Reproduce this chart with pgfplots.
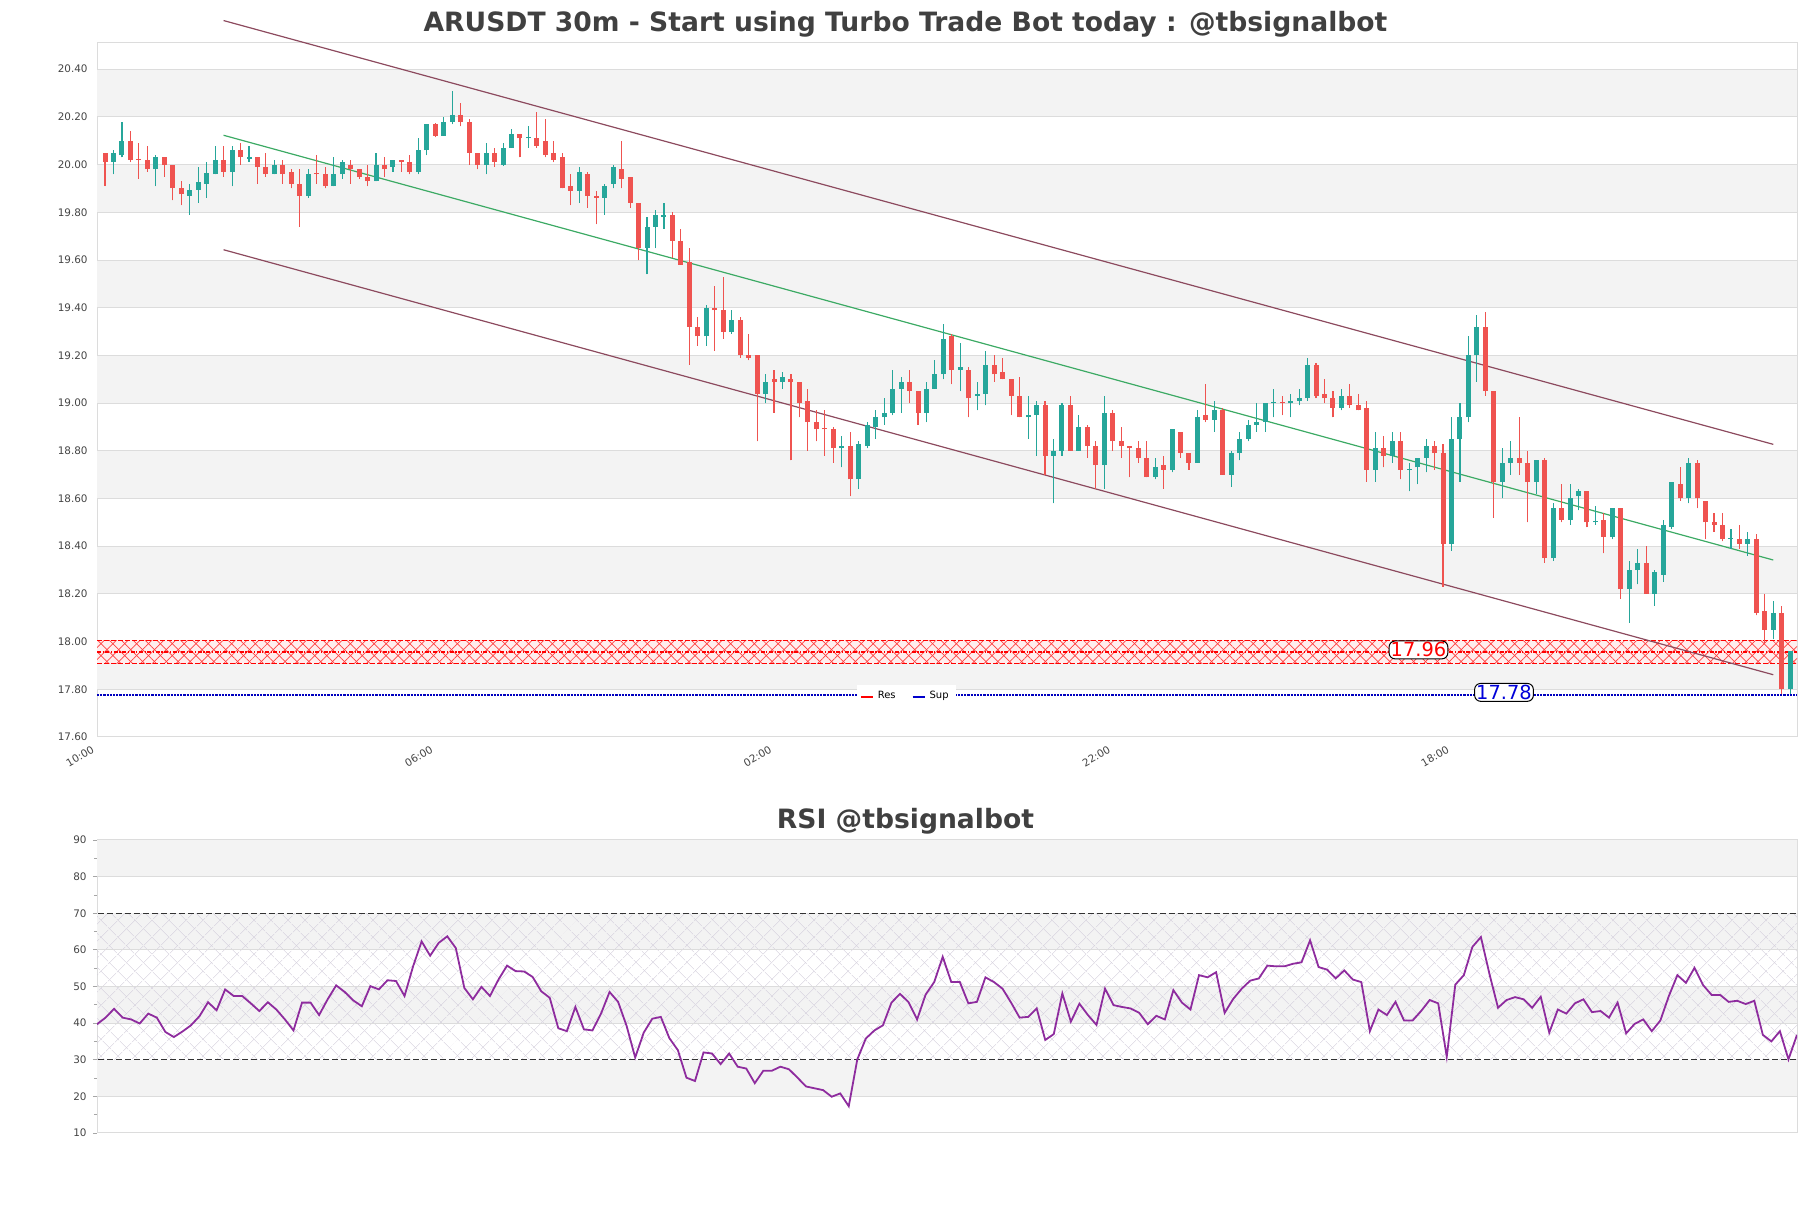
\documentclass[border=0pt]{standalone}
\usepackage{fontspec}
\setmainfont{DejaVu Sans}
\usepackage{pgfplots}
\pgfplotsset{compat=1.18}
\usepackage{pgfplotstable}
\usetikzlibrary{patterns.meta}
\definecolor{upc}{HTML}{26A69A}
\definecolor{dnc}{HTML}{EF5350}
\definecolor{band}{HTML}{F3F3F3}
\definecolor{gridc}{HTML}{DCDCDC}
\definecolor{chan}{HTML}{8C4A5E}
\definecolor{midl}{HTML}{3CAA64}
\definecolor{rsic}{HTML}{8E2C9E}
\definecolor{titlec}{HTML}{404040}
\definecolor{tickc}{HTML}{444444}
\definecolor{hatchc}{HTML}{D4CFDC}

\pgfplotstableread{
x o h l c
1 20.01 20.06 19.96 20.05
2 20.04 20.18 20.03 20.10
6 19.98 20.04 19.91 20.03
10 19.87 19.92 19.79 19.895
11 19.895 19.99 19.84 19.925
12 19.92 20.01 19.86 19.965
13 19.96 20.08 19.96 20.02
15 19.97 20.08 19.91 20.06
17 20.025 20.08 20.01 20.03
20 19.96 20.02 19.96 20.00
24 19.87 19.98 19.86 19.96
27 19.91 20.03 19.91 19.96
28 19.96 20.02 19.94 20.01
32 19.93 20.05 19.93 20.00
34 19.99 20.02 19.97 20.02
37 19.97 20.11 19.96 20.06
38 20.06 20.17 20.04 20.17
40 20.12 20.20 20.12 20.18
41 20.18 20.31 20.17 20.21
45 20.00 20.09 19.96 20.05
47 20.00 20.09 19.995 20.07
48 20.07 20.15 20.07 20.13
50 20.11 20.16 20.07 20.115
56 19.89 19.99 19.84 19.97
59 19.86 19.92 19.79 19.91
60 19.92 20.00 19.90 19.99
64 19.65 19.78 19.54 19.74
65 19.74 19.81 19.65 19.79
66 19.78 19.84 19.73 19.79
71 19.28 19.41 19.24 19.40
74 19.30 19.39 19.29 19.35
78 19.04 19.12 19.00 19.09
80 19.09 19.13 19.06 19.11
87 18.81 18.86 18.73 18.82
89 18.68 18.84 18.64 18.83
90 18.82 18.92 18.81 18.91
91 18.90 18.97 18.85 18.94
92 18.94 19.02 18.91 18.96
93 18.96 19.14 18.95 19.06
94 19.06 19.11 18.96 19.09
97 18.96 19.09 18.92 19.06
98 19.06 19.18 19.06 19.12
99 19.12 19.33 19.10 19.27
101 19.14 19.25 19.05 19.15
103 19.03 19.09 18.97 19.04
104 19.04 19.22 18.99 19.16
109 18.94 19.03 18.85 18.95
110 18.95 19.01 18.78 18.99
112 18.78 18.85 18.58 18.80
113 18.80 19.00 18.78 18.99
115 18.80 18.95 18.80 18.90
118 18.74 19.03 18.64 18.96
124 18.69 18.77 18.68 18.73
126 18.72 18.89 18.71 18.89
129 18.75 18.97 18.75 18.94
131 18.93 19.01 18.88 18.97
133 18.70 18.80 18.65 18.79
134 18.79 18.88 18.76 18.85
135 18.85 18.93 18.84 18.91
136 18.91 19.00 18.88 18.92
137 18.92 19.00 18.88 19.00
138 19.00 19.06 18.94 19.005
140 19.00 19.04 18.94 19.01
141 19.01 19.06 18.99 19.02
142 19.02 19.19 19.01 19.16
146 18.98 19.06 18.97 19.03
150 18.72 18.88 18.67 18.81
152 18.78 18.88 18.75 18.84
154 18.72 18.75 18.63 18.725
155 18.73 18.77 18.66 18.77
156 18.77 18.85 18.71 18.82
159 18.41 18.94 18.38 18.85
160 18.85 19.00 18.67 18.94
161 18.94 19.28 18.92 19.20
162 19.20 19.37 19.09 19.32
165 18.67 18.81 18.60 18.75
166 18.75 18.84 18.70 18.77
169 18.67 18.76 18.62 18.76
171 18.35 18.58 18.34 18.56
173 18.51 18.66 18.49 18.60
174 18.61 18.64 18.55 18.63
176 18.50 18.57 18.49 18.505
178 18.44 18.56 18.43 18.56
180 18.22 18.34 18.08 18.30
181 18.30 18.39 18.24 18.33
183 18.20 18.30 18.15 18.29
184 18.28 18.51 18.25 18.49
185 18.48 18.67 18.47 18.67
187 18.60 18.77 18.58 18.75
192 18.43 18.47 18.39 18.435
194 18.41 18.46 18.36 18.43
197 18.05 18.17 18.01 18.12
199 17.80 17.96 17.78 17.96
}\uptab

\pgfplotstableread{
x o h l c
0 20.05 20.05 19.91 20.01
3 20.10 20.14 20.01 20.02
4 20.025 20.09 19.94 20.02
5 20.02 20.08 19.97 19.98
7 20.03 20.03 19.95 20.00
8 20.00 20.00 19.85 19.90
9 19.90 19.93 19.83 19.875
14 20.02 20.08 19.95 19.97
16 20.06 20.09 20.00 20.03
18 20.03 20.03 19.92 19.99
19 19.99 20.05 19.95 19.96
21 20.00 20.02 19.92 19.96
22 19.97 19.98 19.90 19.92
23 19.92 19.98 19.74 19.87
25 19.965 20.04 19.92 19.96
26 19.96 19.99 19.90 19.91
29 20.00 20.02 19.92 19.98
30 19.98 19.98 19.94 19.95
31 19.95 20.00 19.91 19.93
33 20.00 20.03 19.95 19.98
35 20.02 20.02 19.97 20.01
36 20.01 20.04 19.96 19.97
39 20.17 20.175 20.115 20.12
42 20.21 20.26 20.16 20.18
43 20.18 20.19 20.00 20.05
44 20.05 20.05 19.98 20.00
46 20.05 20.07 19.99 20.01
49 20.13 20.13 20.03 20.11
51 20.11 20.22 20.07 20.08
52 20.10 20.19 20.03 20.04
53 20.05 20.10 20.01 20.02
54 20.03 20.05 19.90 19.90
55 19.91 19.96 19.83 19.89
57 19.96 19.97 19.82 19.87
58 19.87 19.89 19.75 19.86
61 19.98 20.10 19.90 19.94
62 19.95 19.95 19.82 19.84
63 19.84 19.84 19.60 19.65
67 19.79 19.80 19.61 19.68
68 19.68 19.73 19.58 19.58
69 19.59 19.65 19.16 19.32
70 19.32 19.36 19.24 19.28
72 19.40 19.49 19.22 19.39
73 19.39 19.53 19.27 19.30
75 19.35 19.36 19.19 19.20
76 19.20 19.29 19.18 19.19
77 19.20 19.20 18.84 19.04
79 19.10 19.14 18.96 19.09
81 19.10 19.12 18.76 19.09
82 19.09 19.09 18.94 19.00
83 19.01 19.06 18.80 18.92
84 18.92 18.97 18.84 18.89
85 18.895 18.97 18.78 18.89
86 18.89 18.90 18.75 18.81
88 18.82 18.88 18.61 18.68
95 19.09 19.14 19.00 19.05
96 19.05 19.05 18.91 18.96
100 19.28 19.29 19.08 19.14
102 19.14 19.15 18.94 19.02
105 19.16 19.20 19.09 19.12
106 19.13 19.19 19.10 19.10
107 19.10 19.10 18.95 19.03
108 19.03 19.11 18.94 18.94
111 18.99 19.01 18.70 18.78
114 18.99 19.03 18.80 18.80
116 18.90 18.91 18.77 18.82
117 18.82 18.84 18.64 18.74
119 18.96 18.97 18.80 18.84
120 18.84 18.90 18.77 18.82
121 18.82 18.82 18.69 18.81
122 18.81 18.84 18.75 18.77
123 18.77 18.84 18.69 18.69
125 18.74 18.78 18.64 18.72
127 18.88 18.88 18.77 18.79
128 18.79 18.79 18.72 18.75
130 18.95 19.08 18.92 18.93
132 18.97 18.98 18.70 18.70
139 19.005 19.03 18.95 19.00
143 19.16 19.17 19.02 19.03
144 19.04 19.10 19.00 19.02
145 19.02 19.05 18.94 18.98
147 19.03 19.08 18.98 18.99
148 18.99 19.04 18.97 18.97
149 18.98 19.01 18.67 18.72
151 18.81 18.86 18.73 18.78
153 18.84 18.88 18.68 18.72
157 18.82 18.84 18.72 18.79
158 18.79 18.83 18.23 18.41
163 19.32 19.38 19.03 19.05
164 19.05 19.05 18.52 18.67
167 18.77 18.94 18.70 18.75
168 18.75 18.80 18.50 18.67
170 18.76 18.77 18.33 18.35
172 18.56 18.66 18.50 18.51
175 18.63 18.63 18.48 18.50
177 18.51 18.54 18.37 18.44
179 18.56 18.56 18.18 18.22
182 18.33 18.40 18.20 18.20
186 18.66 18.73 18.59 18.60
188 18.75 18.76 18.56 18.60
189 18.59 18.59 18.43 18.50
190 18.50 18.54 18.46 18.49
191 18.49 18.54 18.42 18.43
193 18.43 18.49 18.39 18.41
195 18.43 18.45 18.11 18.12
196 18.13 18.20 17.99 18.05
198 18.12 18.15 17.78 17.80
}\dntab

\pgfplotstableread{
x r
0 39.7
1 41.5
2 43.9
3 41.5
4 41.0
5 39.9
6 42.6
7 41.5
8 37.6
9 36.2
10 37.7
11 39.4
12 41.9
13 45.7
14 43.5
15 49.2
16 47.4
17 47.4
18 45.4
19 43.3
20 45.7
21 43.7
22 41.0
23 38.0
24 45.6
25 45.6
26 42.2
27 46.5
28 50.3
29 48.5
30 46.2
31 44.6
32 50.1
33 49.2
34 51.7
35 51.5
36 47.4
37 55.5
38 62.3
39 58.4
40 61.9
41 63.7
42 60.5
43 49.6
44 46.5
45 49.9
46 47.4
47 51.9
48 55.7
49 54.2
50 54.1
51 52.6
52 48.7
53 46.9
54 38.6
55 37.8
56 44.4
57 38.3
58 38.0
59 42.6
60 48.5
61 45.8
62 39.2
63 30.6
64 37.4
65 41.2
66 41.7
67 35.9
68 32.6
69 25.1
70 24.2
71 32.0
72 31.7
73 28.8
74 31.7
75 28.1
76 27.6
77 23.6
78 27.0
79 27.0
80 28.1
81 27.4
82 25.1
83 22.7
84 22.2
85 21.7
86 19.9
87 20.8
88 17.3
89 30.1
90 35.8
91 38.0
92 39.4
93 45.6
94 48.0
95 45.7
96 41.0
97 47.8
98 51.2
99 58.1
100 51.2
101 51.2
102 45.4
103 45.8
104 52.5
105 51.2
106 49.4
107 45.6
108 41.5
109 41.7
110 44.0
111 35.4
112 37.0
113 48.1
114 40.4
115 45.3
116 42.2
117 39.5
118 49.4
119 44.9
120 44.4
121 44.0
122 42.8
123 39.7
124 42.0
125 41.0
126 49.0
127 45.6
128 43.7
129 53.1
130 52.5
131 53.9
132 42.8
133 46.6
134 49.4
135 51.6
136 52.2
137 55.7
138 55.5
139 55.5
140 56.2
141 56.6
142 62.6
143 55.3
144 54.6
145 52.2
146 54.4
147 51.9
148 51.2
149 37.8
150 43.7
151 42.2
152 45.8
153 40.7
154 40.7
155 43.3
156 46.3
157 45.4
158 30.8
159 50.5
160 53.1
161 60.8
162 63.5
163 53.4
164 44.2
165 46.3
166 47.1
167 46.5
168 44.2
169 47.2
170 37.4
171 43.7
172 42.6
173 45.4
174 46.5
175 43.0
176 43.3
177 41.5
178 45.6
179 37.2
180 39.8
181 41.0
182 37.8
183 40.7
184 47.4
185 53.1
186 51.0
187 55.1
188 50.4
189 47.7
190 47.7
191 45.8
192 46.1
193 45.2
194 46.1
195 36.8
196 35.0
197 37.8
198 30.1
199 36.8
}\rsitab

\pgfplotsset{
  tickfont/.style={font=\fontsize{5.2}{6}\selectfont, text=tickc},
  candle/.style={forget plot, only marks, mark=*, mark size=0pt, mark options={draw=none, fill=none}},
}

\begin{document}
\begin{tikzpicture}
\path[use as bounding box] (0,0) rectangle (905.5pt,604pt);

\node[font=\bfseries\fontsize{13.3}{16}\selectfont, text=titlec] at (452.75pt,591.8pt) {ARUSDT 30m - Start using Turbo Trade Bot today : @tbsignalbot};
\node[font=\bfseries\fontsize{13.3}{16}\selectfont, text=titlec] at (452.75pt,193.3pt) {RSI @tbsignalbot};

% ---------- main price axis ----------
\begin{axis}[
  at={(48.5pt,235.5pt)}, anchor=south west,
  scale only axis, width=850pt, height=347pt,
  xmin=-0.95, xmax=199.8, ymin=17.6, ymax=20.51,
  clip=false,
  axis line style={draw=gridc, line width=0.5pt},
  xtick={0,40,80,120,160},
  xticklabels={10:00,06:00,02:00,22:00,18:00},
  ytick={17.6,17.8,18,18.2,18.4,18.6,18.8,19,19.2,19.4,19.6,19.8,20,20.2,20.4},
  /pgf/number format/assume math mode=true,
  y tick label style={tickfont, /pgf/number format/fixed, /pgf/number format/fixed zerofill, /pgf/number format/precision=2, inner sep=0pt, xshift=-4.5pt},
  x tick label style={tickfont, rotate=30, anchor=north east, inner sep=0pt, xshift=-8pt, yshift=0pt},
  major tick length=0pt,
  tick style={draw=none},
  legend style={at={(0.476,0.058)}, anchor=center, legend columns=2, draw=none, fill=white,
    font=\fontsize{5}{6}\selectfont, inner sep=1.5pt,
    /tikz/every even column/.append style={column sep=6pt}},
  legend image code/.code={\draw[#1, line width=1pt] (0pt,0pt) -- (6pt,0pt);},
]
% background bands
\fill[band] (axis cs:-0.95,20.2) rectangle (axis cs:199.8,20.4);
\fill[band] (axis cs:-0.95,19.8) rectangle (axis cs:199.8,20.0);
\fill[band] (axis cs:-0.95,19.4) rectangle (axis cs:199.8,19.6);
\fill[band] (axis cs:-0.95,19.0) rectangle (axis cs:199.8,19.2);
\fill[band] (axis cs:-0.95,18.6) rectangle (axis cs:199.8,18.8);
\fill[band] (axis cs:-0.95,18.2) rectangle (axis cs:199.8,18.4);
\fill[band] (axis cs:-0.95,17.8) rectangle (axis cs:199.8,18.0);
% grid lines
\draw[gridc, line width=0.5pt] (axis cs:-0.95,17.8) -- (axis cs:199.8,17.8);
\draw[gridc, line width=0.5pt] (axis cs:-0.95,18.0) -- (axis cs:199.8,18.0);
\draw[gridc, line width=0.5pt] (axis cs:-0.95,18.2) -- (axis cs:199.8,18.2);
\draw[gridc, line width=0.5pt] (axis cs:-0.95,18.4) -- (axis cs:199.8,18.4);
\draw[gridc, line width=0.5pt] (axis cs:-0.95,18.6) -- (axis cs:199.8,18.6);
\draw[gridc, line width=0.5pt] (axis cs:-0.95,18.8) -- (axis cs:199.8,18.8);
\draw[gridc, line width=0.5pt] (axis cs:-0.95,19.0) -- (axis cs:199.8,19.0);
\draw[gridc, line width=0.5pt] (axis cs:-0.95,19.2) -- (axis cs:199.8,19.2);
\draw[gridc, line width=0.5pt] (axis cs:-0.95,19.4) -- (axis cs:199.8,19.4);
\draw[gridc, line width=0.5pt] (axis cs:-0.95,19.6) -- (axis cs:199.8,19.6);
\draw[gridc, line width=0.5pt] (axis cs:-0.95,19.8) -- (axis cs:199.8,19.8);
\draw[gridc, line width=0.5pt] (axis cs:-0.95,20.0) -- (axis cs:199.8,20.0);
\draw[gridc, line width=0.5pt] (axis cs:-0.95,20.2) -- (axis cs:199.8,20.2);
\draw[gridc, line width=0.5pt] (axis cs:-0.95,20.4) -- (axis cs:199.8,20.4);

% resistance zone
\fill[red!7] (axis cs:-0.95,17.91) rectangle (axis cs:199.8,18.005);
\fill[pattern={Lines[angle=45,distance=4.2pt,line width=0.35pt]}, pattern color=red!75] (axis cs:-0.95,17.91) rectangle (axis cs:199.8,18.005);
\fill[pattern={Lines[angle=-45,distance=4.2pt,line width=0.35pt]}, pattern color=red!75] (axis cs:-0.95,17.91) rectangle (axis cs:199.8,18.005);
\draw[red, line width=0.5pt, dash pattern=on 2.5pt off 1pt] (axis cs:-0.95,18.005) -- (axis cs:199.8,18.005);
\draw[red, line width=0.5pt, dash pattern=on 2.5pt off 1pt] (axis cs:-0.95,17.91) -- (axis cs:199.8,17.91);

\addlegendimage{red}
\addlegendentry{Res}
\addlegendimage{blue!80!black}
\addlegendentry{Sup}

\addplot[forget plot, red, line width=1pt, dash pattern=on 2pt off 0.8pt on 0.6pt off 0.8pt] coordinates {(-0.95,17.957) (199.8,17.957)};
\addplot[forget plot, blue!75!black, line width=1.1pt, dash pattern=on 1.1pt off 0.5pt] coordinates {(-0.95,17.777) (199.8,17.777)};

% channel
\addplot[forget plot, chan, line width=0.6pt] coordinates {(14,20.604) (197,18.827)};
\addplot[forget plot, midl, line width=0.6pt] coordinates {(14,20.123) (197,18.342)};
\addplot[forget plot, chan, line width=0.6pt] coordinates {(14,19.643) (197,17.861)};

% wicks
\addplot[candle, error bars/.cd, y dir=plus, y explicit, error mark=none,
  error bar style={line width=0.55pt, draw=upc, solid}]
  table[x=x, y=l, y error plus expr=\thisrow{h}-\thisrow{l}] {\uptab};
\addplot[candle, error bars/.cd, y dir=plus, y explicit, error mark=none,
  error bar style={line width=0.55pt, draw=dnc, solid}]
  table[x=x, y=l, y error plus expr=\thisrow{h}-\thisrow{l}] {\dntab};
% bodies
\addplot[candle, error bars/.cd, y dir=plus, y explicit, error mark=none,
  error bar style={line width=2.5pt, draw=upc, solid}]
  table[x=x, y=o, y error plus expr=\thisrow{c}-\thisrow{o}] {\uptab};
\addplot[candle, error bars/.cd, y dir=plus, y explicit, error mark=none,
  error bar style={line width=2.5pt, draw=dnc, solid}]
  table[x=x, y=c, y error plus expr=\thisrow{o}-\thisrow{c}] {\dntab};

\node[draw=black, fill=white, rounded corners=3pt, text=red, inner sep=0.8pt, line width=0.5pt,
  font=\fontsize{9.7}{11}\selectfont] at (axis cs:155.1,17.965) {17.96};
\node[draw=black, fill=white, rounded corners=3pt, text=blue!85!black, inner sep=0.8pt, line width=0.5pt,
  font=\fontsize{9.7}{11}\selectfont] at (axis cs:165.2,17.787) {17.78};
\end{axis}

% ---------- RSI axis ----------
\begin{axis}[
  at={(48.5pt,37.5pt)}, anchor=south west,
  scale only axis, width=850pt, height=146.5pt,
  xmin=0, xmax=199, ymin=10, ymax=90,
  axis line style={draw=gridc, line width=0.5pt},
  xtick=\empty,
  ytick={10,20,30,40,50,60,70,80,90},
  minor ytick={15,25,35,45,55,65,75,85},
  ytick pos=left,
  /pgf/number format/assume math mode=true,
  y tick label style={tickfont, inner sep=0pt, xshift=-3pt},
  tick align=outside, major tick length=2pt, minor tick length=1.5pt,
  ytick style={draw=gray!70, line width=0.4pt},
]
\fill[band] (axis cs:-2,80) rectangle (axis cs:201,90);
\fill[band] (axis cs:-2,60) rectangle (axis cs:201,70);
\fill[band] (axis cs:-2,40) rectangle (axis cs:201,50);
\fill[band] (axis cs:-2,20) rectangle (axis cs:201,30);
\fill[pattern={Lines[angle=45,distance=6.4pt,line width=0.3pt]}, pattern color=hatchc] (axis cs:-2,30) rectangle (axis cs:201,70);
\fill[pattern={Lines[angle=-45,distance=6.4pt,line width=0.3pt]}, pattern color=hatchc] (axis cs:-2,30) rectangle (axis cs:201,70);
\draw[gridc, line width=0.5pt] (axis cs:-2,20) -- (axis cs:201,20);
\draw[gridc, line width=0.5pt] (axis cs:-2,40) -- (axis cs:201,40);
\draw[gridc, line width=0.5pt] (axis cs:-2,50) -- (axis cs:201,50);
\draw[gridc, line width=0.5pt] (axis cs:-2,60) -- (axis cs:201,60);
\draw[gridc, line width=0.5pt] (axis cs:-2,80) -- (axis cs:201,80);
\draw[black!80, line width=0.6pt, dash pattern=on 3pt off 1.5pt] (axis cs:-2,70) -- (axis cs:201,70);
\draw[black!80, line width=0.6pt, dash pattern=on 3pt off 1.5pt] (axis cs:-2,30) -- (axis cs:201,30);
\addplot[rsic, line width=0.9pt] table[x=x, y=r] {\rsitab};
\end{axis}
\end{tikzpicture}
\end{document}
